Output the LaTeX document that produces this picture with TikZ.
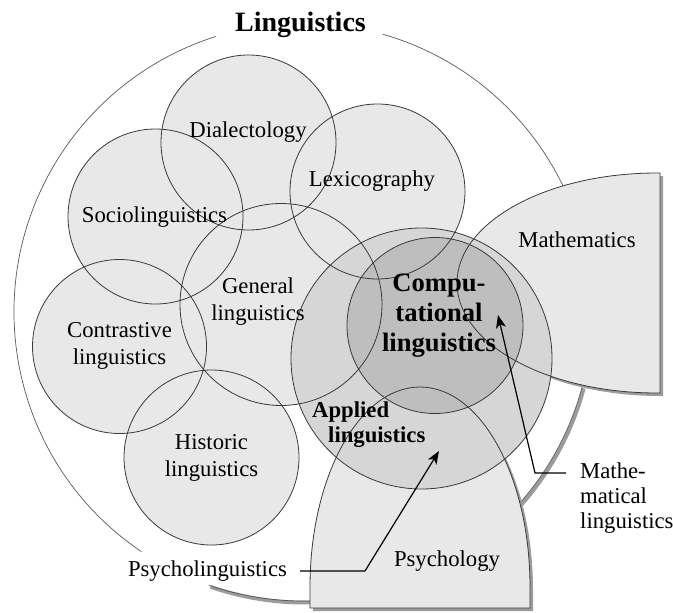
\documentclass[tikz,border=0pt]{standalone}
\usepackage{fontspec}
\setmainfont{Liberation Serif}
\usetikzlibrary{arrows.meta}
\definecolor{lightfill}{HTML}{E8E8E8}
\definecolor{midfill}{HTML}{D6D6D6}
\definecolor{darkfill}{HTML}{BEBEBE}
\definecolor{edgegray}{HTML}{3A3A3A}
\definecolor{shadowgray}{HTML}{9C9C9C}
\newcommand\MathShapePath{(657,173) arc[start angle=-90,end angle=-270,x radius=200,y radius=110] -- (660,393) -- (660,173) -- cycle}
\newcommand\PsyShapePath{(310,608) -- (310,587) arc[start angle=180,end angle=360,x radius=110,y radius=200] -- (530,608) -- cycle}
\begin{document}
\begin{tikzpicture}[x=1pt,y=-1pt,
  ring/.style={draw=edgegray,line width=0.8pt},
  bigring/.style={draw=edgegray!85,line width=0.7pt},
  lbl/.style={inner sep=0pt,font=\fontsize{22.7}{27}\selectfont,align=center},
  blbl/.style={inner sep=0pt,font=\bfseries\fontsize{26.6}{30}\selectfont,align=center},
  arr/.style={line width=1.2pt,-{Stealth[length=13pt,width=10pt,inset=3.5pt]}}
]
\useasboundingbox (0,0) rectangle (673,613);
% big Linguistics circle
\coordinate (L) at (303,312);
\draw[draw=shadowgray,line width=3.8pt] ([shift={(1.6,1.6)}]L) ++(15:289) arc[start angle=15,end angle=109,radius=289];
\draw[bigring] (L) ++(-74:289) arc[start angle=-74,end angle=109,radius=289];
\draw[bigring] (L) ++(124:289) arc[start angle=124,end angle=252.5,radius=289];
% Mathematics and Psychology shapes
\fill[fill=shadowgray,shift={(3,3)}] \MathShapePath;
\fill[fill=shadowgray,shift={(3,3)}] \PsyShapePath;
\fill[lightfill] \MathShapePath;
\fill[lightfill] \PsyShapePath;
% circle centres
\coordinate (cD) at (248.5,142.5);
\coordinate (cS) at (155.5,216.5);
\coordinate (cX) at (377.5,191.5);
\coordinate (cG) at (281,304.5);
\coordinate (cC) at (119.5,346.5);
\coordinate (cH) at (211.5,457.5);
\coordinate (cA) at (421.5,358.5);
\coordinate (cP) at (435,325.5);
% fills
\foreach \c/\r in {cD/87.5,cS/87.5,cX/87.5,cG/101,cC/87,cH/87.5}
  \fill[lightfill] (\c) circle[radius=\r];
\fill[midfill] (cA) circle[radius=130.5];
\fill[darkfill] (cP) circle[radius=88];
% outlines
\foreach \c/\r in {cD/87.5,cS/87.5,cX/87.5,cG/101,cC/87,cH/87.5,cA/130.5,cP/88}
  \draw[ring] (\c) circle[radius=\r];
\draw[ring] \MathShapePath;
\draw[ring] \PsyShapePath;
% labels
\node[inner sep=0pt,anchor=base,font=\bfseries\fontsize{28}{32}\selectfont] (title) at (300.5,31) {Linguistics};
\node[lbl,anchor=base] (dia) at (248,137) {Dialectology};
\node[lbl,anchor=base] (soc) at (154.5,222) {Sociolinguistics};
\node[lbl,anchor=base] (lex) at (372,186) {Lexicography};
\node[lbl,anchor=base] (mat) at (577,247) {Mathematics};
\node[lbl] (gen) at (258,302) {General\\linguistics};
\node[lbl] (con) at (119.5,346) {Contrastive\\linguistics};
\node[lbl] (his) at (211.5,458) {Historic\\linguistics};
\node[blbl] (comp) at (439,316) {Compu-\\tational\\linguistics};
\node[inner sep=0pt,anchor=north west,align=left,font=\bfseries\fontsize{22.7}{25}\selectfont] (app) at (312,402) {Applied\\\hspace*{16pt}linguistics};
\node[lbl,anchor=base] (psy) at (447,566) {Psychology};
\node[lbl,anchor=base] (psyl) at (207.5,576) {Psycholinguistics};
\node[inner sep=0pt,anchor=north west,align=left,font=\fontsize{22.7}{25}\selectfont] (mling) at (580,462.5) {Mathe-\\matical\\linguistics};
% connectors
\coordinate (pA) at (300,571);
\coordinate (pB) at (365,571);
\coordinate (pT) at (439,451);
\draw[arr] (pA) -- (pB) -- (pT);
\coordinate (mA) at (566,473);
\coordinate (mB) at (535,473);
\coordinate (mT) at (498,315);
\draw[arr] (mA) -- (mB) -- (mT);
\end{tikzpicture}
\end{document}
